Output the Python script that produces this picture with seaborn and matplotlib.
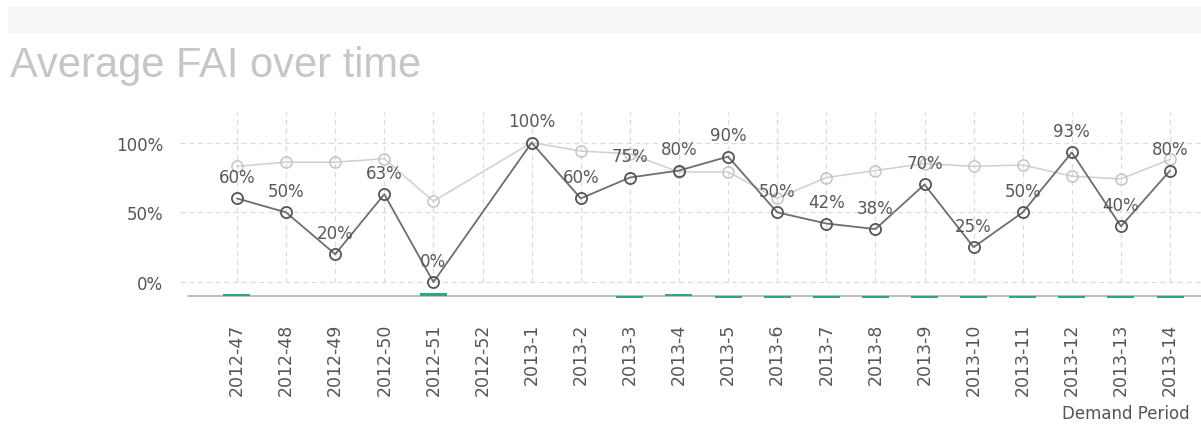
import numpy as np
import pandas as pd
import matplotlib
matplotlib.use("Agg")
import matplotlib.pyplot as plt
from matplotlib.patches import Rectangle
import seaborn as sns

# Demand periods and FAI values (percent); None = no data for that period
periods = ["2012-47", "2012-48", "2012-49", "2012-50", "2012-51", "2012-52",
           "2013-1", "2013-2", "2013-3", "2013-4", "2013-5", "2013-6", "2013-7",
           "2013-8", "2013-9", "2013-10", "2013-11", "2013-12", "2013-13", "2013-14"]
fai = [60, 50, 20, 63, 0, None, 100, 60, 75, 80, 90, 50, 42, 38, 70, 25, 50, 93, 40, 80]
fai_ref = [83, 86, 86, 88.5, 58, None, 100, 94, 92, 79, 79, 60, 75, 80, 85, 83, 84, 76, 74, 88]
# small green markers along the axis (relative to the baseline)
delta = [1.4, None, None, None, 2.2, None, None, None, -1.4, 1.4, -1.4, -1.4, -1.4,
         -1.4, -1.4, -1.4, -1.4, -1.4, -1.4, -1.4]

df = pd.DataFrame({"idx": np.arange(len(periods)), "period": periods,
                   "fai": fai, "fai_ref": fai_ref, "delta": delta})

sns.set_style("white")
plt.rcParams["font.family"] = ["DejaVu Sans"]

fig = plt.figure(figsize=(12.01, 4.35), dpi=100)
fig.patches.append(Rectangle((8 / 1201, 1 - 33 / 435), 1, 25 / 435,
                             transform=fig.transFigure, color="#f7f5f7", zorder=0))
fig.text(10 / 1201, 1 - 77 / 435, "Average FAI over time", fontsize=30,
         color="#c6c6c6", family="Liberation Sans", ha="left", va="baseline")

ax = fig.add_axes([180 / 1201, 1 - 297 / 435, 1021 / 1201, 184 / 435])
base = -10
ax.set_xlim(-1.16, 19.63)
ax.set_ylim(base, 122)

# grid
ax.vlines(df["idx"], 0, 122, colors="#dcdcdc", linestyles=(0, (4, 3)), lw=0.9, zorder=0)
for yv in [0, 50, 100]:
    ax.axhline(yv, color="#dcdcdc", ls=(0, (4, 3)), lw=0.9, zorder=0)
ax.axhline(base, xmin=8 / 1021, color="#b0b0b0", lw=1.2, zorder=2, clip_on=False)

# green bars at the baseline
bars = df.dropna(subset=["delta"])
ax.bar(bars["idx"], bars["delta"], bottom=base, width=0.55, color="#2ea87a",
       zorder=3, linewidth=0, clip_on=False)

sns.lineplot(data=df, x="idx", y="fai_ref", ax=ax, color="#cfcfcf", lw=1.1,
             marker="o", markersize=8, markerfacecolor="none",
             markeredgecolor="#c4c4c4", markeredgewidth=1.1, zorder=4)
sns.lineplot(data=df, x="idx", y="fai", ax=ax, color="#6e6e6e", lw=1.3,
             marker="o", markersize=8, markerfacecolor="none",
             markeredgecolor="#555555", markeredgewidth=1.3, zorder=5)

for i, v in zip(df["idx"], df["fai"]):
    if pd.notna(v):
        ax.annotate(f"{v:.0f}%", (i, v), xytext=(0, 9), textcoords="offset points",
                    ha="center", va="bottom", fontsize=12, color="#595959", zorder=6)

ax.set_yticks([0, 50, 100])
ax.set_yticklabels(["0%", "50%", "100%"])
ax.set_xticks(df["idx"])
ax.set_xticklabels(periods, rotation=90)
ax.tick_params(axis="y", length=0, pad=12, labelsize=12, labelcolor="#555555")
ax.tick_params(axis="x", length=0, pad=19, labelsize=12.5, labelcolor="#555555")
for lbl in ax.get_xticklabels():
    lbl.set_va("top")
ax.set_xlabel("")
ax.set_ylabel("")
for s in ax.spines.values():
    s.set_visible(False)

fig.text(1190 / 1201, 1 - 419 / 435, "Demand Period", fontsize=12, color="#555555",
         ha="right", va="baseline")

fig.savefig("out.png", dpi=100)
